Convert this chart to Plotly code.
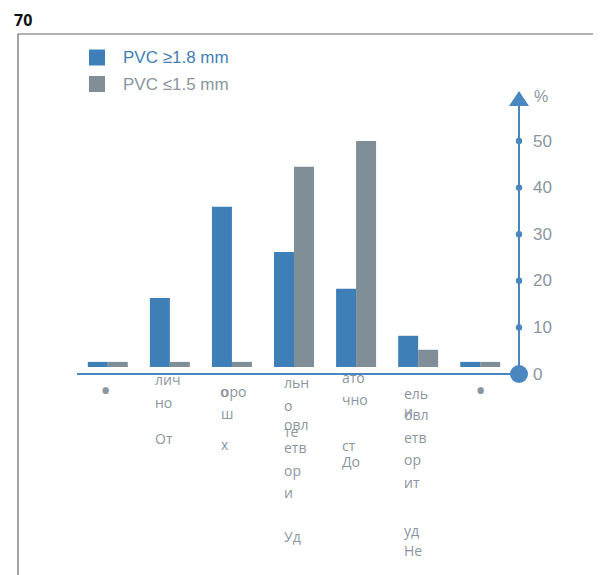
import plotly.graph_objects as go

# ---- data ----
categories = ["•", "Отлично", "Хорошо", "Удовлетворительно", "Достаточно", "Неудовлетворительно", "• "]
pvc_thick = [2.6, 16.3, 35.9, 26.2, 18.3, 8.2, 2.6]   # PVC ≥1.8 mm
pvc_thin = [2.6, 2.6, 2.6, 44.5, 50.0, 5.2, 2.6]      # PVC ≤1.5 mm
y_ticks = [0, 10, 20, 30, 40, 50]
series_names = ["PVC ≥1.8 mm", "PVC ≤1.5 mm"]
title_text = "70"
# garbled label fragments as rendered: (text, pixel x, pixel y)
label_fragments = [
    ("•", 105, 389),
    ("лич", 156, 379), ("но", 156, 402), ("От", 156, 438),
    ("оро", 222, 391), ("о", 221, 391), ("ш", 222, 413), ("х", 222, 444),
    ("льн", 285, 382), ("о", 285, 405), ("овл", 285, 424), ("те", 285, 431),
    ("етв", 285, 447), ("ор", 285, 470), ("и", 285, 492), ("Уд", 285, 536),
    ("ато", 343, 377), ("чно", 343, 399), ("ст", 343, 445), ("До", 343, 461),
    ("ель", 405, 393), ("овл", 405, 414), ("и", 405, 411), ("етв", 405, 437),
    ("ор", 405, 459), ("ит", 405, 482), ("уд", 405, 530), ("Не", 405, 550),
    ("•", 480, 389),
]

W, H = 601, 575
OFF = 8  # page body margin
BLUE = "#3f7fb8"
GRAY = "#7f8e97"
AXIS = "#4a87c1"
TXT = "#8a969f"

# pixel mapping (plot area = whole figure), in screen pixels
X0_PX, X_STEP = 107.8, 62.07
Y0_PX, Y_STEP = 374.0, 4.66
x_range = [-(X0_PX - OFF) / X_STEP, (W - (X0_PX - OFF)) / X_STEP]
y_range = [-(H - (Y0_PX - OFF)) / Y_STEP, (Y0_PX - OFF) / Y_STEP]
BASE = 1.5

xs = list(range(len(categories)))

fig = go.Figure()
fig.add_trace(go.Bar(x=xs, y=[v - BASE for v in pvc_thick], base=BASE, name=series_names[0],
                     marker=dict(color=BLUE, line=dict(width=0)), hoverinfo="skip"))
fig.add_trace(go.Bar(x=xs, y=[v - BASE for v in pvc_thin], base=BASE, name=series_names[1],
                     marker=dict(color=GRAY, line=dict(width=0)), hoverinfo="skip"))

def px_x(px):
    return (px - OFF) / W

def px_y(py):
    return 1 - (py - OFF) / H

shapes = []
annotations = []

# frame
shapes.append(dict(type="line", xref="paper", yref="paper", x0=px_x(18), x1=1.0, y0=px_y(34), y1=px_y(34),
                   line=dict(color="#666666", width=1.2)))
shapes.append(dict(type="line", xref="paper", yref="paper", x0=px_x(18), x1=px_x(18), y0=px_y(34), y1=0,
                   line=dict(color="#666666", width=1.2)))

ax_px = 519
# x axis line
shapes.append(dict(type="line", xref="paper", yref="paper", x0=px_x(77), x1=px_x(ax_px),
                   y0=px_y(Y0_PX), y1=px_y(Y0_PX), line=dict(color=AXIS, width=2)))
# y axis line
shapes.append(dict(type="line", xref="paper", yref="paper", x0=px_x(ax_px), x1=px_x(ax_px),
                   y0=px_y(Y0_PX), y1=px_y(104), line=dict(color=AXIS, width=2)))
# arrow head
shapes.append(dict(type="path", xref="paper", yref="paper",
                   path=f"M {px_x(ax_px-10)},{px_y(106)} L {px_x(ax_px+10)},{px_y(106)} L {px_x(ax_px)},{px_y(91)} Z",
                   fillcolor=AXIS, line=dict(color=AXIS, width=0)))
# origin circle
shapes.append(dict(type="circle", xref="paper", yref="paper",
                   x0=px_x(ax_px-9), x1=px_x(ax_px+9), y0=px_y(Y0_PX+9), y1=px_y(Y0_PX-9),
                   fillcolor=AXIS, line=dict(color=AXIS, width=0)))
# tick dots and labels
for t in y_ticks:
    py = Y0_PX - t * Y_STEP
    if t != 0:
        shapes.append(dict(type="circle", xref="paper", yref="paper",
                           x0=px_x(ax_px-3.2), x1=px_x(ax_px+3.2), y0=px_y(py+3.2), y1=px_y(py-3.2),
                           fillcolor=AXIS, line=dict(color=AXIS, width=0)))
    annotations.append(dict(xref="paper", yref="paper", x=px_x(531), y=px_y(py), text=str(t),
                            showarrow=False, xanchor="left", yanchor="middle",
                            font=dict(family="Liberation Sans, Arial", size=17, color=TXT)))
annotations.append(dict(xref="paper", yref="paper", x=px_x(532), y=px_y(96), text="%",
                        showarrow=False, xanchor="left", yanchor="middle",
                        font=dict(family="Liberation Sans, Arial", size=16, color=TXT)))

# legend (manual)
leg_colors = [BLUE, GRAY]
leg_text_colors = [BLUE, TXT]
for i, (name, c, tc) in enumerate(zip(series_names, leg_colors, leg_text_colors)):
    cy = 57.5 + i * 26.5
    shapes.append(dict(type="rect", xref="paper", yref="paper",
                       x0=px_x(89), x1=px_x(105), y0=px_y(cy+8), y1=px_y(cy-8),
                       fillcolor=c, line=dict(width=0)))
    annotations.append(dict(xref="paper", yref="paper", x=px_x(121), y=px_y(cy), text=name,
                            showarrow=False, xanchor="left", yanchor="middle",
                            font=dict(family="Liberation Sans, Arial", size=17, color=tc)))

# title
annotations.append(dict(xref="paper", yref="paper", x=px_x(12), y=px_y(20), text=f"<b>{title_text}</b>",
                        showarrow=False, xanchor="left", yanchor="middle",
                        font=dict(family="Open Sans, Arial", size=16, color="#111111")))

# category label fragments
for txt, cx, py in label_fragments:
    if txt == "•":
        annotations.append(dict(xref="paper", yref="paper", x=px_x(cx), y=px_y(py), text=txt,
                                showarrow=False, xanchor="center", yanchor="middle",
                                font=dict(family="Open Sans, Arial", size=30, color=TXT)))
    else:
        annotations.append(dict(xref="paper", yref="paper", x=px_x(cx), y=px_y(py), text=txt,
                                showarrow=False, xanchor="left", yanchor="middle", xshift=-3,
                                font=dict(family="Open Sans, Arial", size=14, color=TXT)))

fig.update_layout(
    width=W, height=H,
    margin=dict(l=0, r=0, t=0, b=0),
    paper_bgcolor="white", plot_bgcolor="white",
    barmode="group", bargap=0.356, bargroupgap=0,
    showlegend=False,
    xaxis=dict(range=x_range, visible=False, fixedrange=True),
    yaxis=dict(range=y_range, visible=False, fixedrange=True),
    shapes=shapes, annotations=annotations,
)

fig.write_html("out.html")
